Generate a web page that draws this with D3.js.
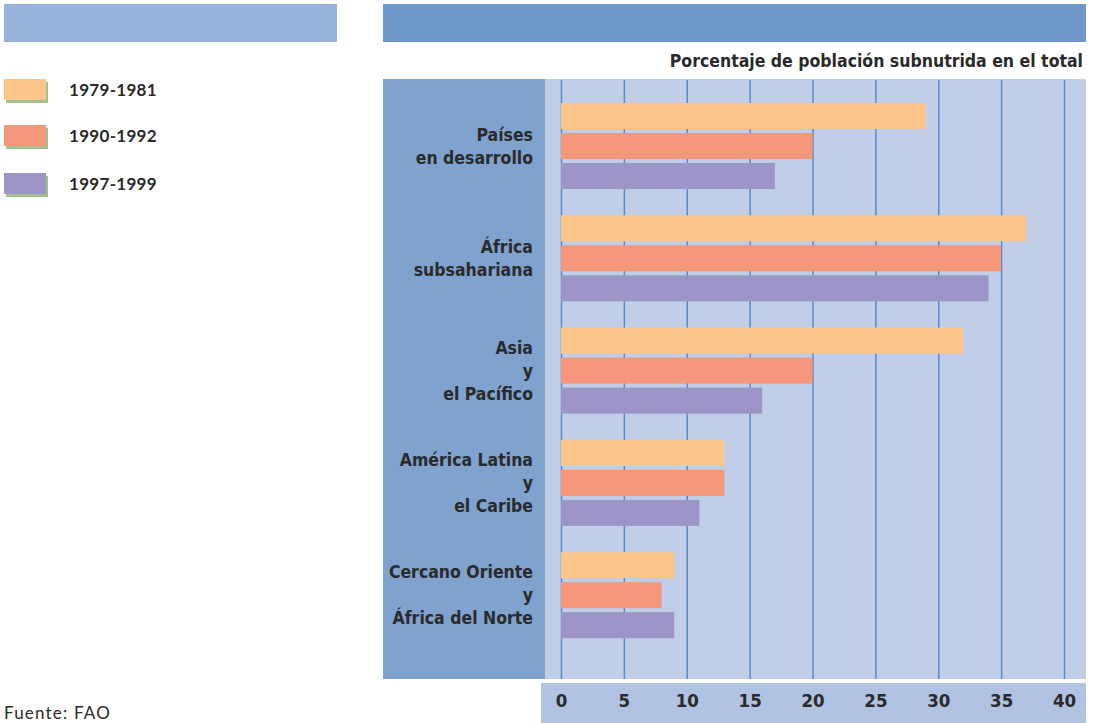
<!DOCTYPE html>
<html><head><meta charset="utf-8">
<script src="https://cdn.jsdelivr.net/npm/d3@7"></script>
<style>
html,body{margin:0;padding:0;background:#fff;}
svg{display:block;}
</style></head>
<body>
<svg id="c" width="1095" height="723"></svg>
<script>
const categories = [
  ["Países","en desarrollo"],
  ["África","subsahariana"],
  ["Asia","y","el Pacífico"],
  ["América Latina","y","el Caribe"],
  ["Cercano Oriente","y","África del Norte"]
];
const seriesNames = ["1979-1981","1990-1992","1997-1999"];
const s1979 = [29, 37, 32, 13, 9];
const s1990 = [20, 35, 20, 13, 8];
const s1997 = [17, 34, 16, 11, 9];
const tickValues = [0,5,10,15,20,25,30,35,40];
const colors = ["#fcc68a","#f4977a","#9d95c8"];

const FONT = "'DejaVu Sans Condensed','DejaVu Sans',sans-serif";
const svg = d3.select("#c");
const series = [s1979, s1990, s1997];
const catIdx = d3.range(categories.length);

// header bars
svg.append("rect").attr("x",4).attr("y",4).attr("width",333).attr("height",38).attr("fill","#98b3d9");
svg.append("rect").attr("x",383).attr("y",4).attr("width",703).attr("height",38).attr("fill","#6f98c8");

// title
svg.append("text").attr("x",1083).attr("y",67).attr("text-anchor","end")
  .attr("font-family",FONT).attr("font-weight","bold")
  .attr("font-size",17.5).attr("fill","#2a2a2a").text("Porcentaje de población subnutrida en el total");

// panels
svg.append("rect").attr("x",383).attr("y",79).attr("width",162).attr("height",600).attr("fill","#7fa2cf");
svg.append("rect").attr("x",545).attr("y",79).attr("width",541).attr("height",600).attr("fill","#c0cfe7");
svg.append("rect").attr("x",541).attr("y",683).attr("width",545).attr("height",40).attr("fill","#b0c3e2");

const x = d3.scaleLinear().domain([0,40]).range([561,1064]);
const y = d3.scaleBand().domain(catIdx).range([91, 652.5]).padding(0);
const yi = d3.scaleBand().domain(d3.range(3)).range([12, 98]).paddingInner(4/30);

// grid
const grid = svg.append("g").attr("transform","translate(0,80)")
  .call(d3.axisBottom(x).tickValues(tickValues).tickSize(599).tickFormat(""));
grid.select(".domain").remove();
grid.selectAll(".tick line").attr("stroke","#5b88c8").attr("stroke-width",1.5);

// bars
const g = svg.append("g");
catIdx.forEach(i => {
  series.forEach((s, k) => {
    g.append("rect")
      .attr("x", x(0))
      .attr("y", y(i) + yi(k))
      .attr("width", x(s[i]) - x(0))
      .attr("height", yi.bandwidth())
      .attr("fill", colors[k]);
  });
});

// category labels
catIdx.forEach(i => {
  const lines = categories[i];
  const cy = y(i) + y.bandwidth()/2 - 1;
  const lh = 23;
  const t = svg.append("text").attr("text-anchor","end")
    .attr("font-family",FONT).attr("font-weight","bold")
    .attr("font-size",17.5).attr("fill","#2a2a2a");
  lines.forEach((ln, j) => {
    t.append("tspan").attr("x",533)
      .attr("y", cy + (j - (lines.length-1)/2)*lh + 6)
      .text(ln);
  });
});

// x axis labels
const ax = svg.append("g").attr("transform","translate(0,701)")
  .call(d3.axisBottom(x).tickValues(tickValues).tickSize(0).tickPadding(0));
ax.select(".domain").remove();
ax.selectAll("text").attr("font-family",FONT)
  .attr("font-weight","bold").attr("font-size",18.5).attr("fill","#2a2a2a").attr("dy","0.35em");

// legend
const lg = svg.append("g");
seriesNames.forEach((n, k) => {
  const yy = [79,125,173][k];
  lg.append("rect").attr("x",6).attr("y",yy+3).attr("width",42).attr("height",21).attr("fill","#a3c08f");
  lg.append("rect").attr("x",4).attr("y",yy).attr("width",42).attr("height",21).attr("fill",colors[k]);
  lg.append("text").attr("x",69).attr("y",yy+17)
    .attr("font-family","Lato, sans-serif").attr("font-weight","bold").attr("font-size",17)
    .attr("letter-spacing",0.3)
    .attr("fill","#2a2a2a").text(n);
});

// source
svg.append("text").attr("x",4).attr("y",719).attr("font-family","Lato, sans-serif")
  .attr("font-size",17).attr("letter-spacing",1.2).attr("fill","#2a2a2a").text("Fuente: FAO");
</script>
</body></html>
